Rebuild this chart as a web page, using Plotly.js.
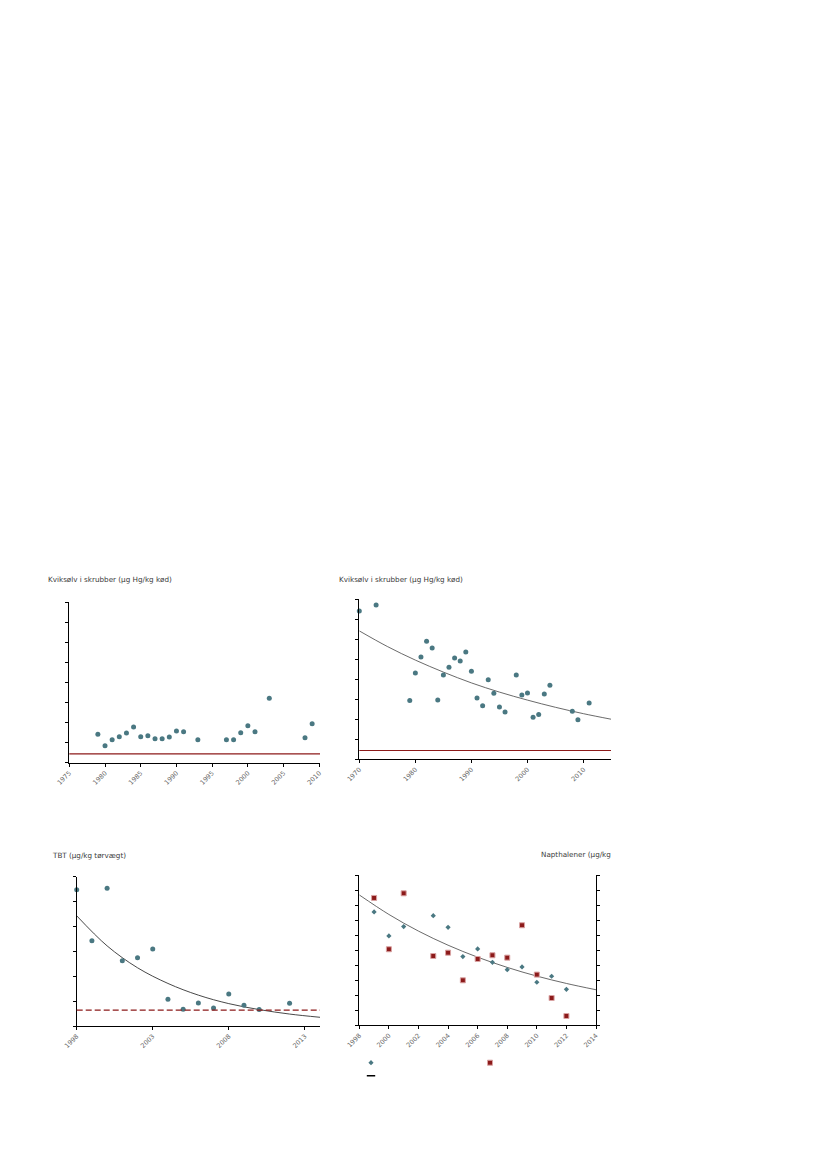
<!DOCTYPE html>
<html>
<head>
<meta charset="utf-8">
<script src="https://cdn.plot.ly/plotly-3.0.1.min.js"></script>
<style>
  html, body { margin: 0; padding: 0; background: #ffffff; }
  #chart { width: 827px; height: 1169px; }
</style>
</head>
<body>
<div id="chart"></div>
<script>
// ---------- Data ----------
// Chart 1: Kviksølv i skrubber (station A)
const hgA_years  = [1979,1980,1981,1982,1983,1984,1985,1986,1987,1988,1989,1990,1991,1993,1997,1998,1999,2000,2001,2003,2008,2009];
const hgA_values = [71,42,57,65,74,89,65,67,60,60,64,79,77,57,57,57,75,92,77,161,62,97];

// Chart 2: Kviksølv i skrubber (station B)
const hgB_years  = [1970,1973,1979,1980,1981,1982,1983,1984,1985,1986,1987,1988,1989,1990,1991,1992,1993,1994,1995,1996,1998,1999,2000,2001,2002,2003,2004,2008,2009,2011];
const hgB_values = [371,386,147,216,256,295,278,148,211,230,253,246,268,220,153,134,199,165,131,118,211,161,166,105,112,163,185,120,99,141];
const hgB_trendYears  = [1970,1975,1980,1985,1990,1995,2000,2005,2010,2015];
const hgB_trendValues = [321,282,248,218,191,168,148,130,114,100];

// Mercury quality standard (red line)
const hgThreshold = 22;

// Chart 3: TBT (µg/kg tørvægt)
const tbt_years  = [1998,1999,2000,2001,2002,2003,2004,2005,2006,2007,2008,2009,2010,2012];
const tbt_values = [54.8,34.3,55.4,26.2,27.4,30.9,10.7,6.7,9.2,7.2,12.9,8.3,6.6,9.1];
const tbt_trendYears  = [1998,2000,2002,2004,2006,2008,2010,2012,2014];
const tbt_trendValues = [44.3,32.2,23.4,17.1,12.4,9.0,6.6,4.8,3.5];
const tbtThreshold = 6.4;

// Chart 4: Napthalener (µg/kg)
const nap_years   = [1999,2000,2001,2003,2004,2005,2006,2007,2008,2009,2010,2011,2012];
const napA_values = [75.6,59.6,65.8,73.1,65.3,45.8,50.9,42.0,37.1,38.9,28.7,32.7,24.0];
const napB_values = [84.9,50.7,88.0,46.2,48.4,30.0,44.2,46.7,45.1,66.7,33.8,18.2,6.2];
const nap_trendYears  = [1998,2000,2002,2004,2006,2008,2010,2012,2014];
const nap_trendValues = [86.9,73.9,62.8,53.4,45.4,38.6,32.8,27.9,23.7];

// Titles
const titles = {
  c1: 'Kviksølv i skrubber (µg Hg/kg kød)',
  c2: 'Kviksølv i skrubber (µg Hg/kg kød)',
  c3: 'TBT (µg/kg tørvægt)',
  c4: 'Napthalener (µg/kg'
};

// ---------- Styling ----------
const W = 827, H = 1169;
const px = v => v / W;
const py = v => 1 - v / H;
const TEAL = '#4a7882';
const RED = '#8c1a1a';
const FONT = '"DejaVu Sans", Lato, sans-serif';

function axisBase(extra) {
  return Object.assign({
    showgrid: false, zeroline: false, showline: true,
    linecolor: '#000', linewidth: 1,
    ticks: 'outside', ticklen: 3, tickwidth: 1, tickcolor: '#000',
    tickfont: { size: 6.5, color: '#666', family: FONT },
    fixedrange: true
  }, extra);
}

const dot = { color: TEAL, size: 5, line: { width: 0 } };

const traces = [
  { type: 'scatter', mode: 'markers', x: hgA_years, y: hgA_values, xaxis: 'x', yaxis: 'y',
    marker: dot, cliponaxis: false, showlegend: false, hoverinfo: 'x+y' },

  { type: 'scatter', mode: 'lines', x: hgB_trendYears, y: hgB_trendValues, xaxis: 'x2', yaxis: 'y2',
    line: { color: '#444', width: 0.8, shape: 'spline' }, showlegend: false, hoverinfo: 'skip' },
  { type: 'scatter', mode: 'markers', x: hgB_years, y: hgB_values, xaxis: 'x2', yaxis: 'y2',
    marker: dot, cliponaxis: false, showlegend: false, hoverinfo: 'x+y' },

  { type: 'scatter', mode: 'lines', x: tbt_trendYears, y: tbt_trendValues, xaxis: 'x3', yaxis: 'y3',
    line: { color: '#333', width: 0.9, shape: 'spline' }, showlegend: false, hoverinfo: 'skip' },
  { type: 'scatter', mode: 'markers', x: tbt_years, y: tbt_values, xaxis: 'x3', yaxis: 'y3',
    marker: dot, cliponaxis: false, showlegend: false, hoverinfo: 'x+y' },

  { type: 'scatter', mode: 'lines', x: nap_trendYears, y: nap_trendValues, xaxis: 'x4', yaxis: 'y4',
    line: { color: '#444', width: 0.8, shape: 'spline' }, showlegend: false, hoverinfo: 'skip' },
  { type: 'scatter', mode: 'markers', x: nap_years, y: napA_values, xaxis: 'x4', yaxis: 'y4',
    marker: { color: TEAL, size: 4, symbol: 'diamond', line: { width: 0 } },
    cliponaxis: false, name: '', legend: 'legend', hoverinfo: 'x+y' },
  { type: 'scatter', mode: 'markers', x: nap_years, y: napB_values, xaxis: 'x4', yaxis: 'y4',
    marker: { color: RED, size: 5, symbol: 'square', line: { width: 1, color: '#d9a3a3' } },
    cliponaxis: false, name: '', legend: 'legend2', hoverinfo: 'x+y' },
  // legend key for the trend line
  { type: 'scatter', mode: 'markers', x: [null], y: [null], xaxis: 'x4', yaxis: 'y4',
    marker: { symbol: 'line-ew-open', size: 6, color: '#000', line: { width: 1.5, color: '#000' } },
    name: '', legend: 'legend3', hoverinfo: 'skip' }
];

function legendAt(cx, cy) {
  return {
    x: px(cx - 20), y: py(cy), xref: 'paper', yref: 'paper',
    xanchor: 'left', yanchor: 'middle',
    bgcolor: 'rgba(0,0,0,0)', borderwidth: 0,
    font: { size: 6, family: FONT, color: '#333' },
    itemwidth: 30, tracegroupgap: 0
  };
}

const titleFont = { size: 7.2, color: '#3a3a3a', family: FONT };
function title(text, x, y, anchor) {
  return { text: text, xref: 'paper', yref: 'paper', x: px(x), y: py(y),
           xanchor: anchor || 'left', yanchor: 'middle', showarrow: false, font: titleFont };
}

const layout = {
  width: W, height: H,
  margin: { l: 0, r: 0, t: 0, b: 0 },
  paper_bgcolor: '#fff', plot_bgcolor: 'rgba(0,0,0,0)',
  font: { family: FONT },
  showlegend: true,

  xaxis:  axisBase({ domain: [px(69.3), px(320)], range: [1975, 2010.1], tick0: 1975, dtick: 5, tickangle: -45, anchor: 'y' }),
  yaxis:  axisBase({ domain: [py(762.7), py(602.3)], range: [0, 400], tick0: 0, dtick: 50, showticklabels: false, anchor: 'x' }),

  xaxis2: axisBase({ domain: [px(359.3), px(611)], range: [1970, 2014.9], tick0: 1970, dtick: 10, tickangle: -45, anchor: 'y2' }),
  yaxis2: axisBase({ domain: [py(759.3), py(599.3)], range: [0, 400], tick0: 0, dtick: 50, showticklabels: false, anchor: 'x2' }),

  xaxis3: axisBase({ domain: [px(76.7), px(320)], range: [1998, 2014], tick0: 1998, dtick: 5, tickangle: -45, anchor: 'y3' }),
  yaxis3: axisBase({ domain: [py(1026), py(876.7)], range: [0, 60], tick0: 0, dtick: 10, showticklabels: false, anchor: 'x3' }),

  xaxis4: axisBase({ domain: [px(359.3), px(596)], range: [1998, 2014], tick0: 1998, dtick: 2, tickangle: -45, anchor: 'y4' }),
  yaxis4: axisBase({ domain: [py(1025.3), py(875.3)], range: [0, 100], tick0: 0, dtick: 10, showticklabels: false, anchor: 'x4', mirror: 'ticks' }),

  shapes: [
    { type: 'line', xref: 'x domain', yref: 'y', x0: 0, x1: 1, y0: hgThreshold, y1: hgThreshold,
      line: { color: RED, width: 1.2 } },
    { type: 'line', xref: 'x2 domain', yref: 'y2', x0: 0, x1: 1, y0: hgThreshold, y1: hgThreshold,
      line: { color: RED, width: 1.2 } },
    { type: 'line', xref: 'x3 domain', yref: 'y3', x0: 0, x1: 1, y0: tbtThreshold, y1: tbtThreshold,
      line: { color: RED, width: 1.2, dash: '6px,3px' } }
  ],

  annotations: [
    title(titles.c1, 45.5, 579),
    title(titles.c2, 336.5, 579),
    title(titles.c3, 49.5, 855),
    title(titles.c4, 613, 854, 'right')
  ],

  legend:  legendAt(371, 1062.7),
  legend2: legendAt(490, 1062.7),
  legend3: legendAt(371, 1075.7)
};

Plotly.newPlot('chart', traces, layout, { staticPlot: true, displayModeBar: false });
</script>
</body>
</html>
